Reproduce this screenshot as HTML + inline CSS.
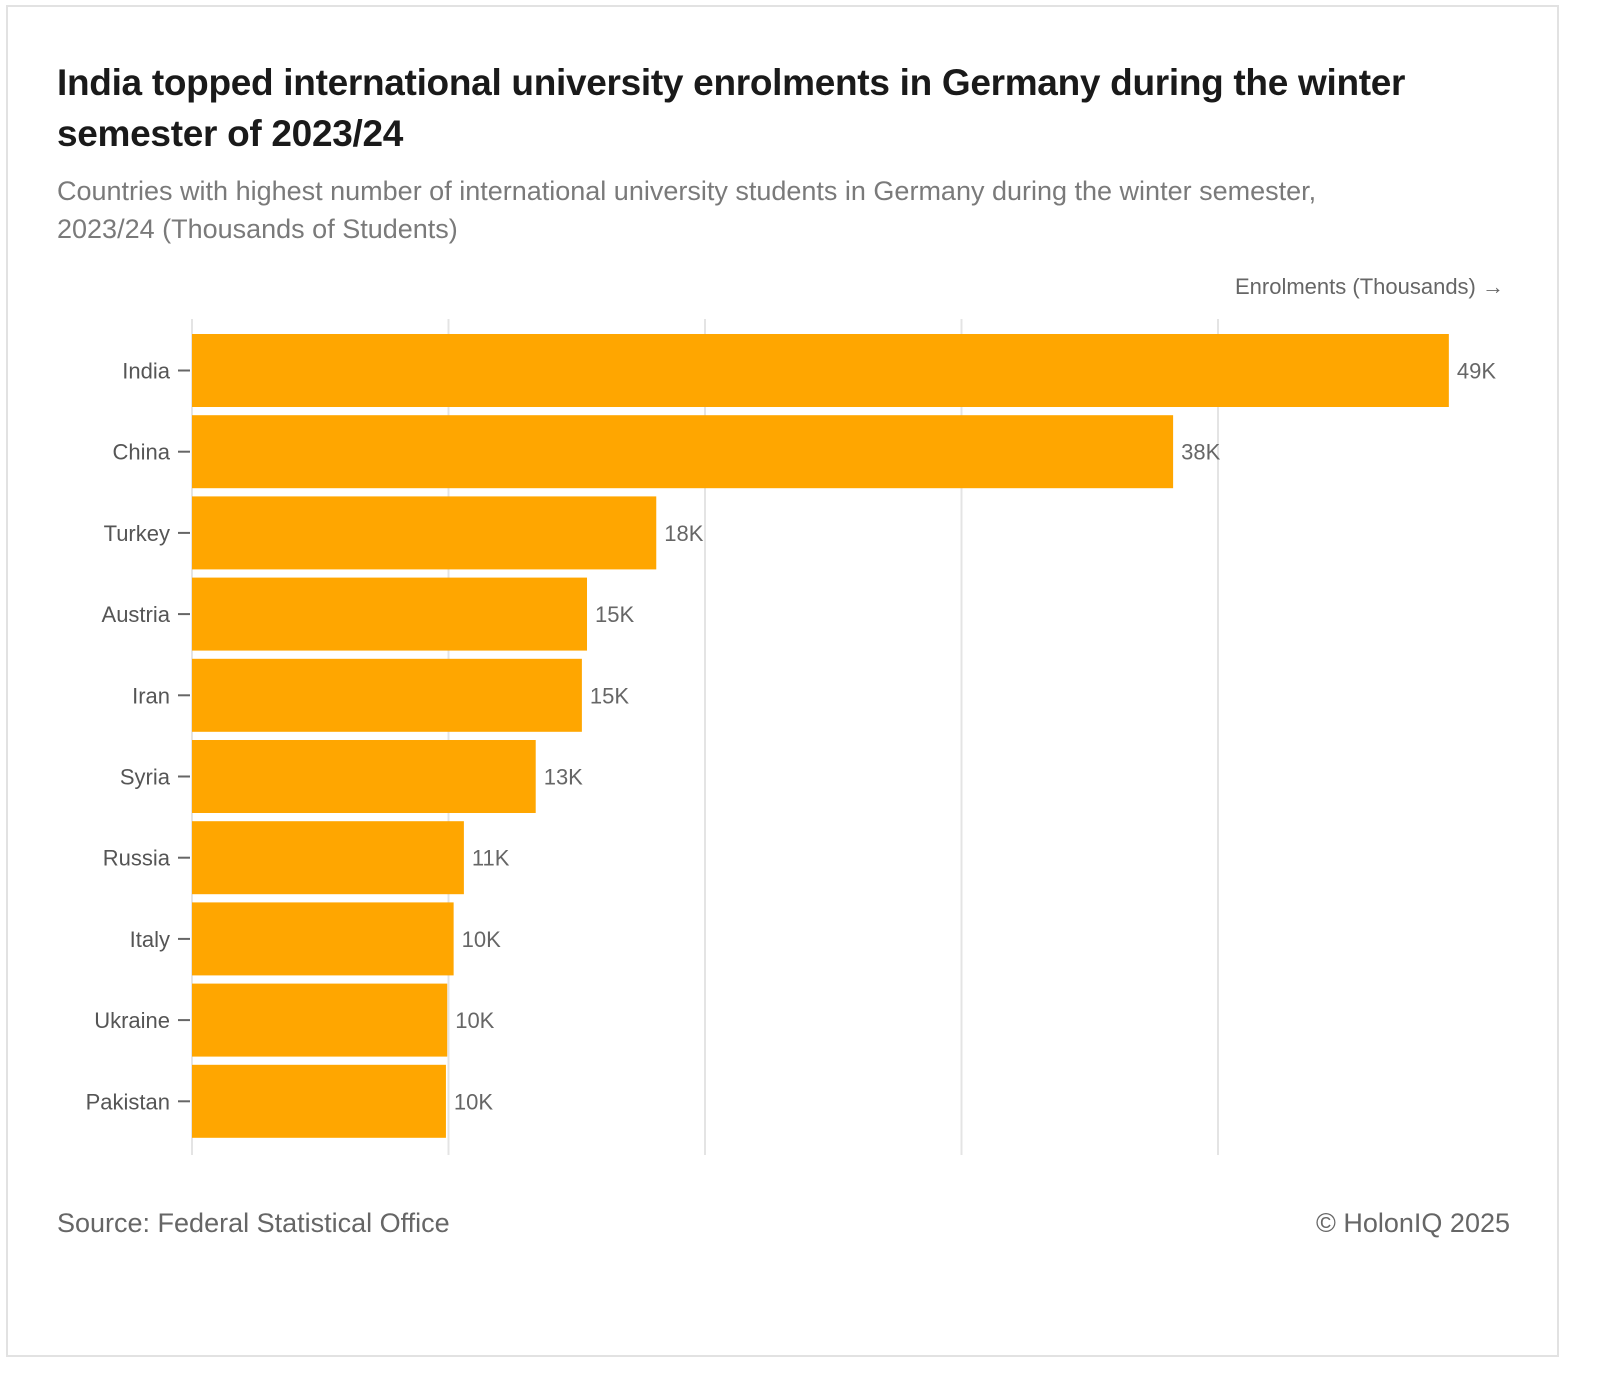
<!DOCTYPE html>
<html><head><meta charset="utf-8"><style>
body{margin:0;background:#fff;width:1600px;height:1391px;position:relative;font-family:"Liberation Sans",sans-serif;overflow:hidden}
#frame{position:absolute;left:6px;top:5px;width:1553px;height:1352px;border:2px solid #e2e2e2;box-sizing:border-box}
#title{position:absolute;left:57px;top:57px;width:1460px;font-size:37px;font-weight:bold;color:#1a1a1a;line-height:51px;letter-spacing:-0.3px}
#subtitle{position:absolute;left:57px;top:172px;width:1340px;font-size:27px;color:#7a7a7a;line-height:38px}
#source{position:absolute;left:57px;top:1208px;font-size:27px;color:#666}
#copy{position:absolute;right:90px;top:1208px;font-size:27px;color:#666}
svg{position:absolute;left:0;top:0}
</style></head><body>
<div id="frame"></div>
<div id="title">India topped international university enrolments in Germany during the winter semester of 2023/24</div>
<div id="subtitle">Countries with highest number of international university students in Germany during the winter semester, 2023/24 (Thousands of Students)</div>
<svg id="chart" width="1600" height="1391"></svg>
<div id="source">Source: Federal Statistical Office</div>
<div id="copy">© HolonIQ 2025</div>
<script>
const categories=["India","China","Turkey","Austria","Iran","Syria","Russia","Italy","Ukraine","Pakistan"];
const values=[49.0,38.25,18.1,15.4,15.2,13.4,10.6,10.2,9.95,9.9];
const valueLabels=["49K","38K","18K","15K","15K","13K","11K","10K","10K","10K"];
const gridTicks=[0,10,20,30,40];
const NS="http://www.w3.org/2000/svg";
const svg=document.getElementById("chart");
const x0=192,pxPer=25.65,top0=319,step=81.2,barH=73,barOff=15;
const x=v=>x0+v*pxPer;
const y=i=>top0+barOff+i*step;
function mk(t,a){const e=document.createElementNS(NS,t);for(const k in a)e.setAttribute(k,a[k]);svg.appendChild(e);return e;}
gridTicks.forEach(t=>{
 const g=mk("line",{x1:x(t),x2:x(t),y1:319,y2:1155,stroke:"#e4e4e4","stroke-width":2});
 
 
});
categories.forEach((c,i)=>{
 const r=mk("rect",{x:x(0),y:y(i),width:x(values[i])-x(0),height:barH,fill:"#ffa600"});
 
 
 const cy=y(i)+barH/2;
 const tk=mk("line",{x1:178,x2:190,y1:cy,y2:cy,stroke:"#666","stroke-width":2});
 
 
 const lb=mk("text",{x:170,y:cy+8,"text-anchor":"end","font-size":22,fill:"#555","font-family":"Liberation Sans, sans-serif"});
 lb.textContent=c;
 
 
 const vl=mk("text",{x:x(values[i])+8,y:cy+8,"font-size":22,fill:"#666","font-family":"Liberation Sans, sans-serif"});
 vl.textContent=valueLabels[i];
 
 
});
const at=mk("text",{x:1504,y:294,"text-anchor":"end","font-size":22,fill:"#666","font-family":"Liberation Sans, sans-serif"});
at.textContent="Enrolments (Thousands) →";


</script>
</body></html>
